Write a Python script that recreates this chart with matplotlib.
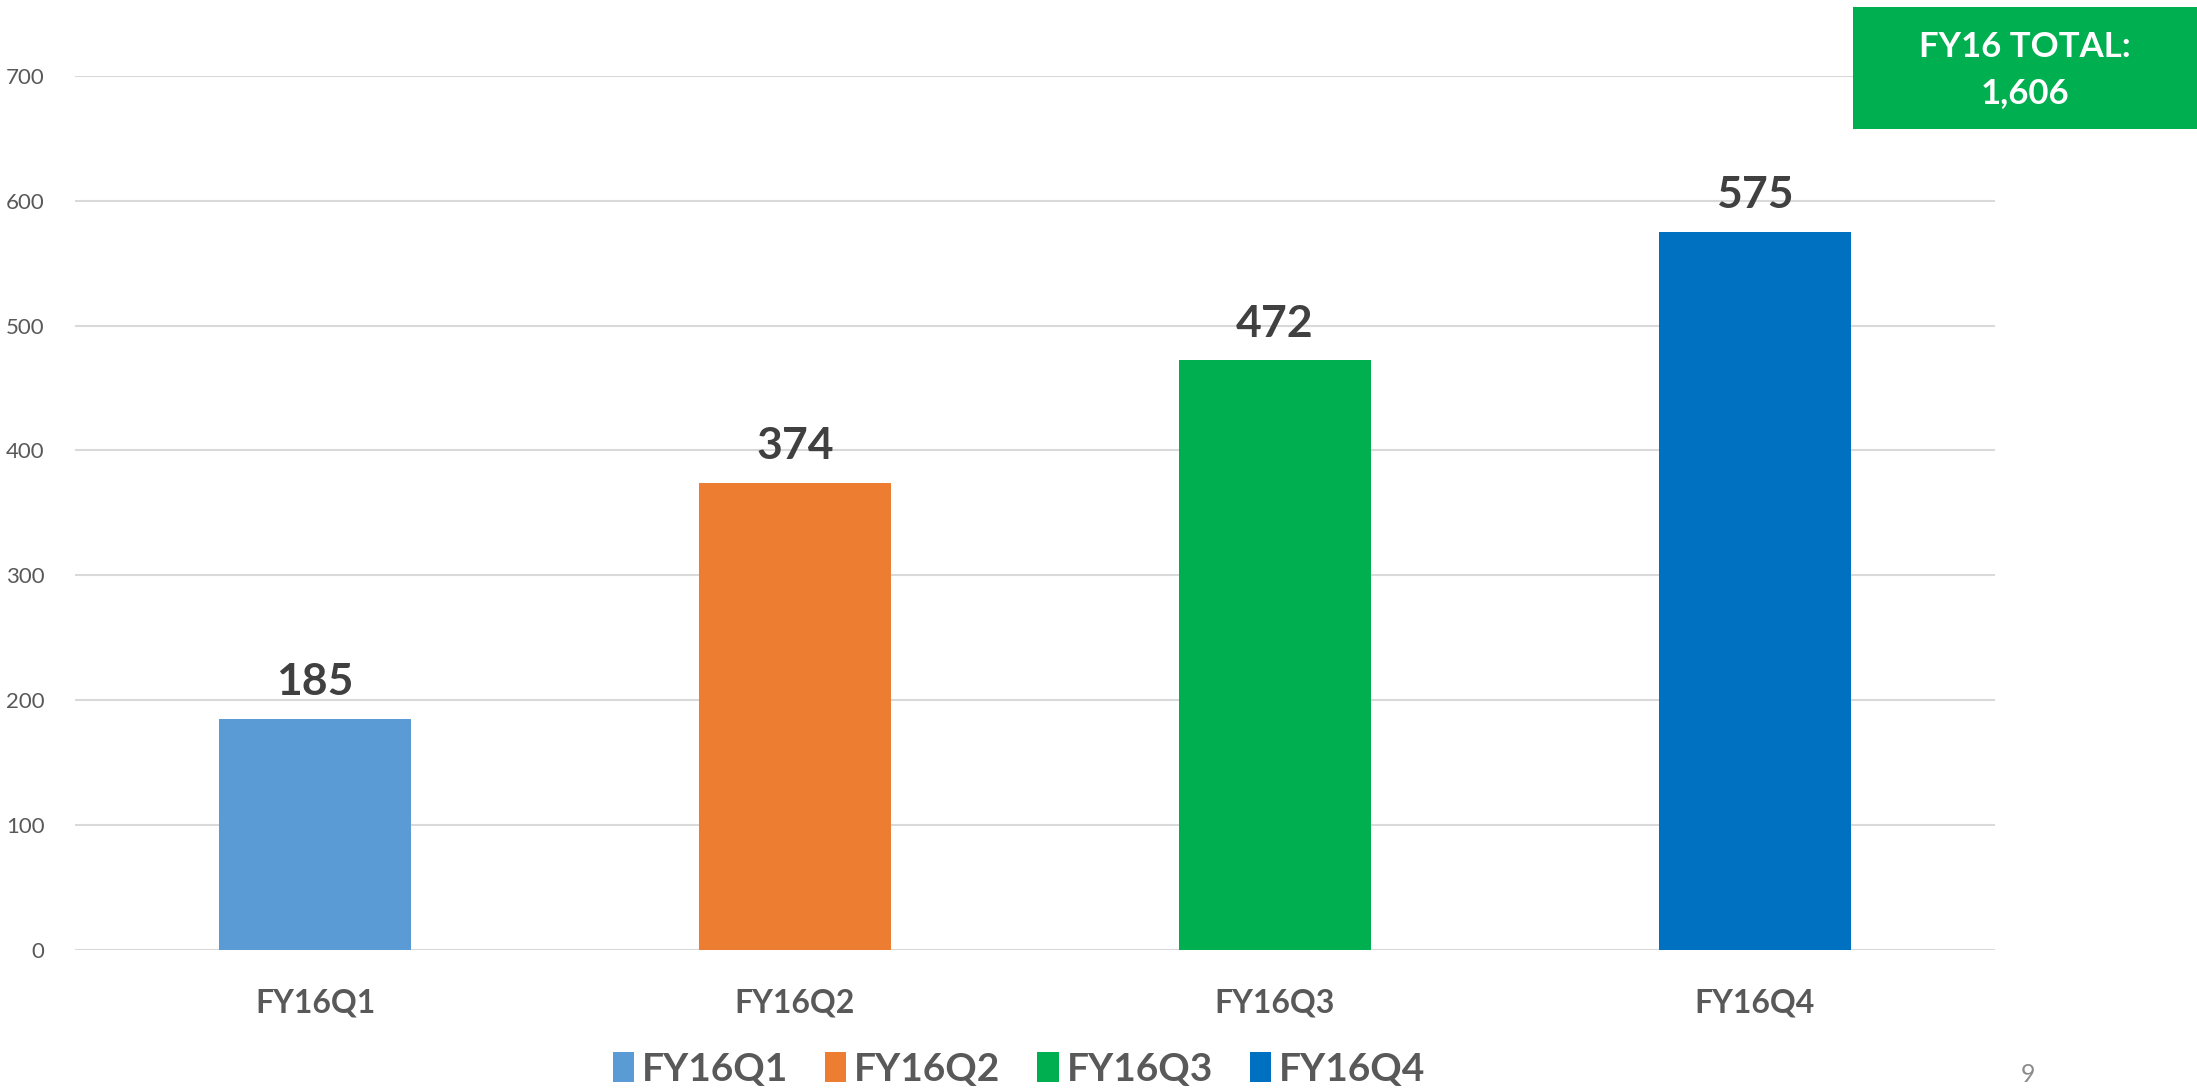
import matplotlib
matplotlib.use('Agg')
import matplotlib.pyplot as plt
from matplotlib.patches import Patch, Rectangle

# data
quarters = ['FY16Q1', 'FY16Q2', 'FY16Q3', 'FY16Q4']
values = [185, 374, 472, 575]
colors = ['#5B9BD5', '#ED7D31', '#00B050', '#0070C0']
y_ticks = [0, 100, 200, 300, 400, 500, 600, 700]
total_text = 'FY16 TOTAL:\n1,606'

plt.rcParams['font.family'] = ['Lato', 'DejaVu Sans']

W, H = 2197, 1089
fig = plt.figure(figsize=(W / 100, H / 100), dpi=100)
fig.patch.set_facecolor('white')

# plot area in pixels: x 75..1995, y 75.7..950 (from top)
ax = fig.add_axes([75 / W, (H - 950) / H, (1995 - 75) / W, (950 - 75.7) / H])

x = list(range(len(quarters)))
ax.bar(x, values, width=0.4, color=colors, zorder=3)
ax.set_xlim(-0.5, len(quarters) - 0.5)
ax.set_ylim(0, 700)

ax.set_yticks(y_ticks)
ax.set_yticklabels([str(t) for t in y_ticks], fontsize=16, color='#595959')
ax.set_xticks(x)
ax.set_xticklabels(quarters, fontsize=23, fontweight='bold', color='#595959')
ax.tick_params(axis='y', length=0, pad=22)
ax.tick_params(axis='x', length=0, pad=28)

ax.grid(axis='y', color='#D9D9D9', linewidth=1.5, zorder=0)
ax.set_axisbelow(True)
for s in ax.spines.values():
    s.set_visible(False)

for i, v in enumerate(values):
    ax.annotate(str(v), (i, v), xytext=(0, 17), textcoords='offset points',
                ha='center', va='baseline', fontsize=32, fontweight='bold',
                color='#404040')

# legend along the bottom
handles = [Patch(facecolor=c, edgecolor='none', label=q) for q, c in zip(quarters, colors)]
fig.legend(handles=handles, loc='center', bbox_to_anchor=(1019 / W, (H - 1069) / H),
           ncol=4, frameon=False, prop={'weight': 'bold', 'size': 28},
           handlelength=0.55, handleheight=0.84, handletextpad=0.2,
           columnspacing=0.95, borderpad=0, labelcolor='#595959')

# green total box in the top right corner
fig.patches.append(Rectangle((1853 / W, (H - 129) / H), (W - 1853) / W, 122 / H,
                             transform=fig.transFigure, facecolor='#00B050',
                             edgecolor='none', zorder=5))
fig.text(2025 / W, (H - 70) / H, total_text, ha='center', va='center',
         fontsize=25, fontweight='bold', color='white', linespacing=1.55, zorder=6)

# page number
fig.text(2028 / W, 3 / H, '9', ha='center', va='bottom', fontsize=18, color='#8C8C8C')

fig.savefig('out.png', dpi=100)
